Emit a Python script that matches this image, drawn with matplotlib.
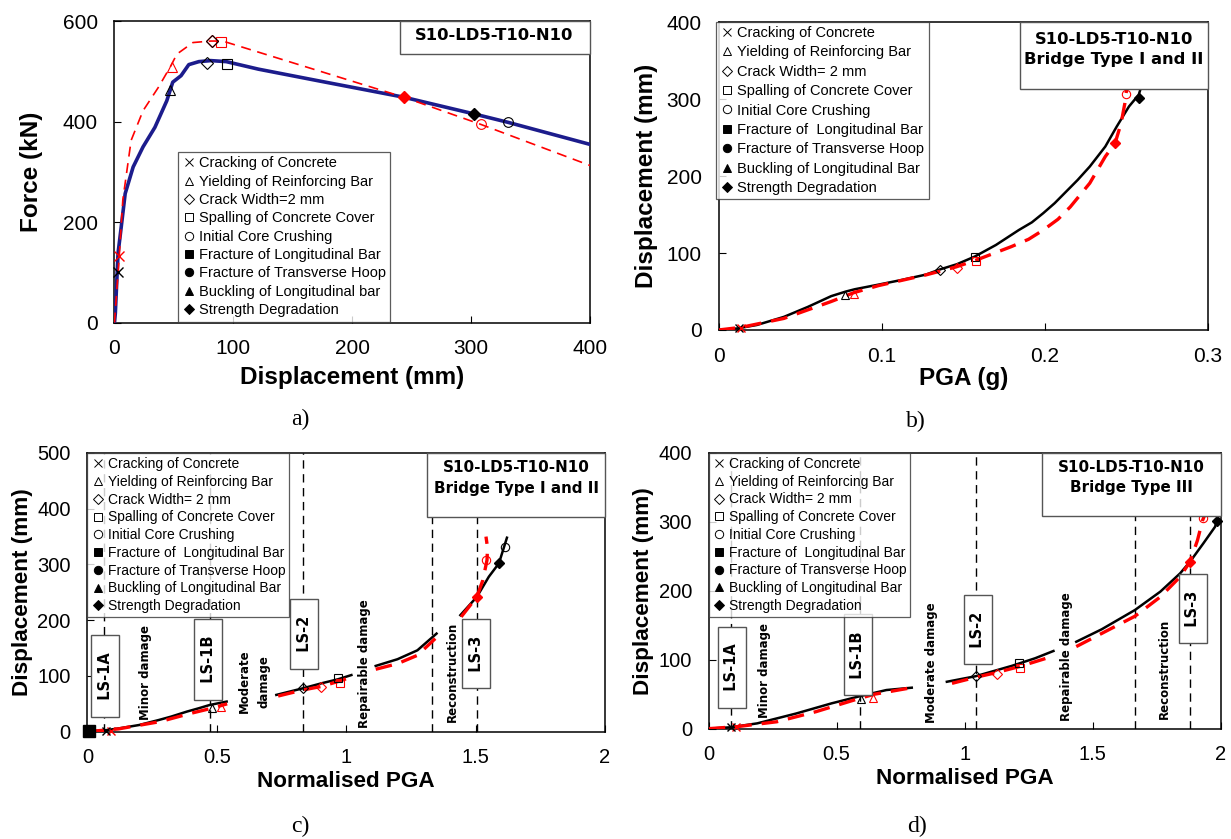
import numpy as np
import matplotlib
matplotlib.use("Agg")
import matplotlib.pyplot as plt
from matplotlib.lines import Line2D
from matplotlib.patches import Rectangle

plt.rcParams["font.family"] = ["Liberation Sans", "DejaVu Sans"]

# ---- panel a: force-displacement ----
a_blue_x = [0, 0.7, 3, 5.7, 9, 15.7, 24, 34, 44, 49, 56, 62.5, 71, 81, 94, 121, 171, 243.5, 302, 331, 400]
a_blue_y = [0, 18, 138, 191, 257, 310, 350, 389, 442, 479, 492, 514, 520, 522, 520, 505, 482, 449, 416, 399, 355]
a_red_x = [0, 4, 7, 14, 24, 37, 47.5, 52.5, 66, 81, 91, 243.5, 308, 400]
a_red_y = [0, 132, 244, 363, 422, 469, 512, 535, 558, 561, 561, 449, 395, 313]
# (x, y) of damage markers: cross, triangle, diamond, square, circle, filled diamond
a_blue_marks = {"x": (3, 101), "^": (47, 464), "D": (78, 518), "s": (95, 515), "o": (331, 400), "Df": (302, 416)}
a_red_marks = {"x": (4, 132), "^": (48, 509), "D": (82, 562), "s": (90, 560), "o": (308, 395), "Df": (243.5, 449)}

# ---- panel b: displacement vs PGA ----
b_blk_x = [0, 0.0115, 0.0235, 0.040, 0.0547, 0.069, 0.078, 0.0835, 0.098, 0.112, 0.127, 0.136, 0.146, 0.157,
           0.170, 0.184, 0.192, 0.199, 0.206, 0.213, 0.220, 0.2275, 0.237, 0.244, 0.2515, 0.2575, 0.261]
b_blk_y = [0, 2, 6.5, 17, 30, 44, 50, 53, 59, 65, 72, 79, 85.5, 95.5, 110.6, 130, 140, 152, 165, 180, 195,
           212.6, 238.6, 264.6, 290.7, 306, 330]
b_red_x = [0, 0.014, 0.040, 0.069, 0.083, 0.098, 0.127, 0.1455, 0.158, 0.1795, 0.190, 0.199, 0.208, 0.2155,
           0.2275, 0.237, 0.243, 0.2467, 0.249, 0.250]
b_red_y = [0, 3.5, 15, 37, 48.6, 57.7, 71.6, 82, 91, 108.5, 118, 130, 144, 160, 191, 225.6, 243, 269, 295, 312]
b_blk_marks = {"x": (0.0127, 2), "^": (0.0775, 45), "D": (0.136, 78), "s": (0.157, 95), "Df": (0.2575, 301.5)}
b_red_marks = {"x": (0.014, 3), "^": (0.083, 47), "D": (0.146, 80), "s": (0.1575, 90), "o": (0.2495, 307),
               "Df": (0.243, 243)}

# ---- panel c: Bridge Type I and II ----
c_blk_segs = [
    ([0, 0.077, 0.123, 0.2, 0.276, 0.323, 0.384, 0.43, 0.473, 0.538], [0, 3, 6, 12, 21, 27, 36, 42, 48, 54]),
    ([0.73, 0.834, 0.906, 0.968, 1.02], [66, 78, 87, 94, 101.6]),
    ([1.114, 1.198, 1.275, 1.349], [118, 130, 146, 176]),
    ([1.441, 1.505, 1.551, 1.590, 1.621], [209, 242, 278, 302, 348]),
]
c_red_segs = [
    ([0, 0.12, 0.28, 0.4, 0.48, 0.54], [0, 5, 18, 33, 42, 50]),
    ([0.737, 0.834, 0.903, 0.968, 1.014], [64, 75, 81, 90, 97]),
    ([1.114, 1.198, 1.275, 1.344], [112, 122, 137, 167]),
    ([1.444, 1.505, 1.528, 1.544, 1.546, 1.540], [206, 242, 272, 308, 330, 350]),
]
c_blk_marks = {"x": (0.072, 2), "^": (0.48, 42), "D": (0.834, 78), "s": (0.968, 96), "o": (1.613, 332),
               "Df": (1.59, 302), "sf": (0.005, 1)}
c_red_marks = {"x": (0.092, 2), "^": (0.515, 45), "D": (0.903, 81), "s": (0.975, 87), "o": (1.541, 308),
               "Df": (1.505, 242)}
c_vlines = [0.066, 0.473, 0.834, 1.333, 1.505]
c_ls_labels = ["LS-1A", "LS-1B", "LS-2", "LS-3"]
c_ls_pos = [(0.068, 100), (0.467, 130), (0.838, 175), (1.503, 140)]
c_zone_labels = ["Minor damage", "Moderate\ndamage", "Repairable damage", "Reconstruction"]
c_zone_pos = [(0.225, 107), (0.645, 90), (1.07, 122), (1.41, 107)]

# ---- panel d: Bridge Type III ----
d_blk_segs = [
    ([0, 0.086, 0.19, 0.342, 0.48, 0.59, 0.694, 0.793], [0, 2, 7.7, 22, 36.7, 47, 56, 59.4]),
    ([0.93, 1.042, 1.183, 1.274, 1.346], [68, 76, 91, 102, 112.6]),
    ([1.435, 1.534, 1.664, 1.763, 1.84, 1.879, 1.931, 1.977, 2.0], [126, 144, 172, 198.6, 225, 242, 268.6, 292.8, 326.6]),
]
d_red_segs = [
    ([0, 0.113, 0.266, 0.419, 0.59, 0.648, 0.793], [0, 3, 10, 24.6, 44, 50, 59.4]),
    ([0.95, 1.042, 1.12, 1.213, 1.335], [65.7, 74.4, 81, 90, 104]),
    ([1.435, 1.534, 1.664, 1.763, 1.84, 1.879, 1.908, 1.928, 1.939], [119, 138, 163, 191, 220, 242, 273, 302, 312]),
]
d_blk_marks = {"x": (0.086, 2), "^": (0.594, 42.5), "D": (1.042, 76), "s": (1.213, 94.7), "Df": (1.985, 301)}
d_red_marks = {"x": (0.108, 2), "^": (0.64, 45), "D": (1.125, 79), "s": (1.216, 87.4), "o": (1.931, 306),
               "Df": (1.879, 242)}
d_vlines = [0.086, 0.59, 1.042, 1.664, 1.879]
d_ls_labels = ["LS-1A", "LS-1B", "LS-2", "LS-3"]
d_ls_pos = [(0.09, 89), (0.583, 107), (1.05, 144), (1.89, 174)]
d_zone_labels = ["Minor damage", "Moderate damage", "Repairable damage", "Reconstruction"]
d_zone_pos = [(0.22, 85), (0.87, 95), (1.397, 104), (1.778, 87)]

legend_a = ["Cracking of Concrete", "Yielding of Reinforcing Bar", "Crack Width=2 mm",
            "Spalling of Concrete Cover", "Initial Core Crushing", "Fracture of Longitudinal Bar",
            "Fracture of Transverse Hoop", "Buckling of Longitudinal bar", "Strength Degradation"]
legend_bcd = ["Cracking of Concrete", "Yielding of Reinforcing Bar", "Crack Width= 2 mm",
              "Spalling of Concrete Cover", "Initial Core Crushing", "Fracture of  Longitudinal Bar",
              "Fracture of Transverse Hoop", "Buckling of Longitudinal Bar", "Strength Degradation"]

RED = "#ff0000"
BOX_FONT = "DejaVu Sans"


def draw_marks(ax, marks, color, size=6):
    for key, (x, y) in marks.items():
        if key == "x":
            ax.plot(x, y, "x", color=color, ms=size, mew=1.0, zorder=5, clip_on=False)
        elif key == "Df":
            ax.plot(x, y, "D", color=color, mfc=color, ms=size - 1, zorder=5, clip_on=False)
        elif key == "sf":
            ax.plot(x, y, "s", color=color, mfc=color, ms=size + 3, zorder=6, clip_on=False)
        else:
            ms = size - 1 if key == "D" else size
            ax.plot(x, y, key, color=color, mfc="none", ms=ms, mew=0.8, zorder=5, clip_on=False)


def legend_handles():
    specs = [("x", "none"), ("^", "none"), ("D", "none"), ("s", "none"), ("o", "none"),
             ("s", "k"), ("o", "k"), ("^", "k"), ("D", "k")]
    return [Line2D([], [], ls="none", marker=m, color="k", mfc=fc, ms=6 if m != "D" else 5, mew=0.7)
            for m, fc in specs]


def add_legend(ax, labels, anchor, loc, spacing, fsize):
    lg = ax.legend(legend_handles(), labels, loc=loc, bbox_to_anchor=anchor, fontsize=fsize, frameon=True,
                   fancybox=False, handlelength=0.9, handletextpad=0.25, labelspacing=spacing,
                   borderpad=0.3, borderaxespad=0)
    lg.get_frame().set_edgecolor("#333333")
    lg.get_frame().set_linewidth(0.9)
    lg.set_zorder(12)


def style_axes(ax, tsize):
    for sp in ax.spines.values():
        sp.set_linewidth(1.1)
        sp.set_color("black")
    ax.tick_params(direction="in", length=5, labelsize=tsize, pad=12, top=False, right=False)


def set_labels(ax, xl, yl, size, xpos, ypos):
    ax.set_xlabel(xl, fontsize=size, fontweight="bold")
    ax.set_ylabel(yl, fontsize=size, fontweight="bold")
    ax.xaxis.set_label_coords(0.5, xpos)
    ax.yaxis.set_label_coords(ypos, 0.5)
    ax.xaxis.label.set_verticalalignment("center")
    ax.yaxis.label.set_verticalalignment("center")


def title_box(ax, text, x0, y0, tx, ty, fsize=11.8):
    ax.add_patch(Rectangle((x0, y0), 1 - x0, 1 - y0, transform=ax.transAxes, fc="white", ec="#555555",
                           lw=1.0, zorder=10, clip_on=False))
    ax.text(tx, ty, text, transform=ax.transAxes, ha="center", va="center", fontsize=fsize,
            fontweight="bold", family=BOX_FONT, linespacing=1.45, zorder=11)


fig = plt.figure(figsize=(12.31, 8.39), dpi=100)

ax_a = fig.add_axes([0.0930, 0.6156, 0.3863, 0.3588])
ax_b = fig.add_axes([0.5837, 0.6067, 0.3977, 0.3665])
ax_c = fig.add_axes([0.0710, 0.1279, 0.4205, 0.3322])
ax_d = fig.add_axes([0.5756, 0.1315, 0.4163, 0.3289])

# panel a
ax_a.plot(a_blue_x, a_blue_y, color="#1c1c8c", lw=2.6, zorder=3)
ax_a.plot(a_red_x, a_red_y, color=RED, lw=1.2, ls=(0, (6, 4)), zorder=3)
draw_marks(ax_a, a_blue_marks, "black", 7)
draw_marks(ax_a, a_red_marks, RED, 7)
ax_a.plot(*a_red_marks["D"], "D", color="black", mfc="none", ms=6, mew=0.8, zorder=6)
ax_a.set_xlim(0, 400)
ax_a.set_ylim(0, 600)
ax_a.set_xticks([0, 100, 200, 300, 400])
ax_a.set_yticks([0, 200, 400, 600])
style_axes(ax_a, 15)
set_labels(ax_a, "Displacement (mm)", "Force (kN)", 17.5, -0.184, -0.175)
add_legend(ax_a, legend_a, (0.1335, 0.003), "lower left", 0.3, 10.5)
title_box(ax_a, "S10-LD5-T10-N10", 0.600, 0.892, 0.798, 0.952)

# panel b
ax_b.plot(b_blk_x, b_blk_y, color="black", lw=1.8, zorder=3)
ax_b.plot(b_red_x, b_red_y, color=RED, lw=2.4, ls=(0, (5, 3)), zorder=3)
draw_marks(ax_b, b_blk_marks, "black", 6)
draw_marks(ax_b, b_red_marks, RED, 6)
ax_b.set_xlim(0, 0.3)
ax_b.set_ylim(0, 400)
ax_b.set_xticks([0, 0.1, 0.2, 0.3])
ax_b.set_xticklabels(["0", "0.1", "0.2", "0.3"])
ax_b.set_yticks([0, 100, 200, 300, 400])
style_axes(ax_b, 15)
set_labels(ax_b, "PGA (g)", "Displacement (mm)", 17.5, -0.158, -0.147)
add_legend(ax_b, legend_bcd, (-0.005, 1.003), "upper left", 0.37, 10.5)
title_box(ax_b, "S10-LD5-T10-N10\nBridge Type I and II", 0.616, 0.784, 0.808, 0.912)


def damage_panel(ax, blk_segs, red_segs, blk_marks, red_marks, vlines, ls_labels, ls_pos,
                 zone_labels, zone_pos, ymax, yticks):
    for xv in vlines:
        ax.axvline(xv, color="black", lw=1.0, ls=(0, (6, 4)), zorder=2)
    for xs, ys in blk_segs:
        ax.plot(xs, ys, color="black", lw=1.8, zorder=3)
    for xs, ys in red_segs:
        ax.plot(xs, ys, color=RED, lw=2.4, ls=(0, (5, 3)), zorder=3)
    draw_marks(ax, red_marks, RED, 6)
    draw_marks(ax, blk_marks, "black", 6)
    for lab, (x, y) in zip(ls_labels, ls_pos):
        ax.text(x, y, "  " + lab + "  ", rotation=90, ha="center", va="center", fontsize=10.5,
                fontweight="bold", family=BOX_FONT, zorder=8,
                bbox=dict(boxstyle="square,pad=0.45", fc="white", ec="#555555", lw=1.0))
    for lab, (x, y) in zip(zone_labels, zone_pos):
        ax.text(x, y, lab, rotation=90, ha="center", va="center", fontsize=8.5, fontweight="bold",
                family=BOX_FONT, zorder=8, linespacing=1.6)
    ax.set_xlim(0, 2)
    ax.set_ylim(0, ymax)
    ax.set_xticks([0, 0.5, 1, 1.5, 2])
    ax.set_xticklabels(["0", "0.5", "1", "1.5", "2"])
    ax.set_yticks(yticks)
    style_axes(ax, 14.5)
    add_legend(ax, legend_bcd, (0, 1.0), "upper left", 0.27, 10)


damage_panel(ax_c, c_blk_segs, c_red_segs, c_blk_marks, c_red_marks, c_vlines, c_ls_labels, c_ls_pos,
             c_zone_labels, c_zone_pos, 500, [0, 100, 200, 300, 400, 500])
set_labels(ax_c, "Normalised PGA", "Displacement (mm)", 16.2, -0.177, -0.125)
title_box(ax_c, "S10-LD5-T10-N10\nBridge Type I and II", 0.656, 0.770, 0.828, 0.910, 10.9)

damage_panel(ax_d, d_blk_segs, d_red_segs, d_blk_marks, d_red_marks, d_vlines, d_ls_labels, d_ls_pos,
             d_zone_labels, d_zone_pos, 400, [0, 100, 200, 300, 400])
set_labels(ax_d, "Normalised PGA", "Displacement (mm)", 16.2, -0.179, -0.127)
title_box(ax_d, "S10-LD5-T10-N10\nBridge Type III", 0.651, 0.771, 0.825, 0.910, 10.9)

for lab, (x, y) in zip(["a)", "b)", "c)", "d)"], [(300, 419), (916, 421), (300, 826), (917, 826)]):
    fig.text(x / 1231, 1 - y / 839, lab, ha="center", va="center", fontsize=17, family="Liberation Serif")

fig.savefig("out.png", dpi=100)
